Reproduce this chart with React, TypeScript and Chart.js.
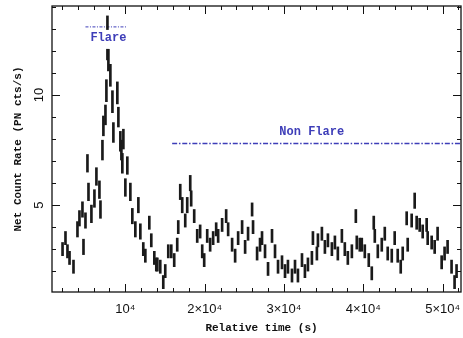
import React, { useEffect, useRef } from "react";
import { Chart, registerables } from "chart.js";

Chart.register(...registerables);

// Relative time (s) of each light-curve bin
const TIMES = [
  2080, 2450, 2700, 2960, 3460, 3960, 4210, 4590, 4720, 4970,
  5220, 5350, 5720, 6100, 6350, 6730, 6860, 7110, 7230, 7490,
  7610, 7740, 7860, 8110, 8370, 8490, 8990, 9120, 9370, 9500,
  9620, 9750, 10000, 10250, 10630, 10880, 11260, 11640, 11890, 12260,
  12520, 13020, 13270, 13650, 13900, 14030, 14400, 14780, 15030, 15410,
  15790, 16160, 16540, 16670, 16920, 17170, 17550, 17800, 18180, 18300,
  18680, 19060, 19430, 19690, 19940, 20320, 20690, 21070, 21450, 21700,
  22200, 22710, 22960, 23460, 23840, 24220, 24720, 25100, 25470, 25980,
  26100, 26610, 26980, 27230, 27610, 27990, 28490, 28870, 29250, 29750,
  30130, 30500, 31010, 31390, 31760, 32270, 32640, 33020, 33520, 33650,
  34150, 34280, 34780, 35160, 35540, 36040, 36420, 36790, 37300, 37670,
  38050, 38560, 39060, 39180, 39560, 39810, 40190, 40690, 41070, 41320,
  41450, 41830, 42330, 42710, 43080, 43590, 43960, 44340, 44720, 44970,
  45470, 45600, 46100, 46480, 46730, 47110, 47490, 47990, 48120, 48620,
  49000, 49370, 49880, 50250, 50630, 51130, 51510, 51760,
];

// Net count rate (PN cts/s)
const RATES = [
  3.0, 3.5, 2.9, 2.6, 2.2, 3.9, 4.4, 4.8, 3.1, 4.3,
  6.9, 5.6, 4.6, 5.3, 6.3, 5.7, 4.8, 7.5, 8.6, 9.1,
  10.2, 12.6, 11.6, 10.9, 9.7, 8.3, 10.1, 9.0, 7.9, 7.5,
  6.9, 8.0, 5.8, 6.8, 5.6, 4.5, 3.9, 5.0, 3.8, 3.0,
  2.7, 4.2, 3.4, 2.6, 2.3, 2.3, 2.2, 1.5, 2.0, 2.9,
  2.9, 2.5, 3.2, 4.0, 5.6, 5.0, 4.3, 5.0, 6.0, 5.3,
  4.5, 3.6, 3.8, 2.9, 2.5, 3.6, 3.2, 3.5, 3.9, 3.6,
  4.1, 4.5, 3.9, 3.2, 2.7, 3.5, 4.0, 3.1, 3.7, 4.8,
  4.0, 2.8, 3.2, 3.5, 2.9, 2.1, 3.6, 2.9, 2.2, 2.4,
  2.0, 2.2, 1.8, 2.2, 1.8, 2.5, 2.0, 2.3, 2.6, 3.5,
  2.8, 3.4, 3.7, 3.1, 3.4, 3.0, 3.3, 2.8, 3.6, 3.0,
  2.6, 2.9, 4.5, 3.3, 3.2, 3.2, 2.9, 2.5, 1.9, 4.2,
  3.6, 2.9, 3.2, 3.7, 2.8, 2.7, 3.5, 2.7, 2.2, 2.8,
  4.4, 3.2, 4.3, 5.2, 4.2, 4.1, 3.8, 4.1, 3.5, 3.3,
  3.1, 3.7, 2.4, 2.8, 3.1, 2.2, 1.5, 2.0,
];

// 1-sigma error (half-length of each error bar)
const ERRORS = [
  0.3, 0.3, 0.3, 0.3, 0.3, 0.35, 0.35, 0.35, 0.35, 0.35,
  0.4, 0.4, 0.4, 0.4, 0.4, 0.4, 0.4, 0.45, 0.45, 0.45,
  0.5, 1.0, 0.5, 0.5, 0.5, 0.45, 0.5, 0.45, 0.45, 0.45,
  0.45, 0.45, 0.4, 0.4, 0.4, 0.35, 0.35, 0.35, 0.35, 0.3,
  0.3, 0.3, 0.3, 0.3, 0.3, 0.3, 0.3, 0.3, 0.3, 0.3,
  0.3, 0.3, 0.3, 0.3, 0.35, 0.35, 0.3, 0.35, 0.35, 0.35,
  0.3, 0.3, 0.3, 0.3, 0.3, 0.3, 0.3, 0.3, 0.3, 0.3,
  0.3, 0.3, 0.3, 0.3, 0.3, 0.3, 0.3, 0.3, 0.3, 0.3,
  0.3, 0.3, 0.3, 0.3, 0.3, 0.3, 0.3, 0.3, 0.3, 0.3,
  0.3, 0.3, 0.3, 0.3, 0.3, 0.3, 0.3, 0.3, 0.3, 0.3,
  0.3, 0.3, 0.3, 0.3, 0.3, 0.3, 0.3, 0.3, 0.3, 0.3,
  0.3, 0.3, 0.3, 0.3, 0.3, 0.3, 0.3, 0.3, 0.3, 0.3,
  0.3, 0.3, 0.3, 0.3, 0.3, 0.3, 0.3, 0.3, 0.3, 0.3,
  0.3, 0.3, 0.3, 0.35, 0.3, 0.3, 0.3, 0.3, 0.3, 0.3,
  0.3, 0.3, 0.3, 0.3, 0.3, 0.3, 0.3, 0.3,
];

const X_MIN = 750;
const X_MAX = 52320;
const Y_MIN = 1.05;
const Y_MAX = 14.05;

const X_MAJOR = [10000, 20000, 30000, 40000, 50000];
const X_MAJOR_LABELS = ["10\u2074", "2\u00d710\u2074", "3\u00d710\u2074", "4\u00d710\u2074", "5\u00d710\u2074"];
const X_MINOR_STEP = 2000;
const Y_MAJOR = [5, 10];
const Y_MAJOR_LABELS = ["5", "10"];
const Y_MINOR_STEP = 1;

const FLARE_START = 4970;
const FLARE_END = 10250;
const FLARE_LEVEL = 13.1;
const NONFLARE_START = 15900;
const NONFLARE_END = 52320;
const NONFLARE_LEVEL = 7.8;
const NONFLARE_LABEL_AT = 33500;

const X_TITLE = "Relative time (s)";
const Y_TITLE = "Net Count Rate (PN cts/s)";
const FLARE_TEXT = "Flare";
const NONFLARE_TEXT = "Non Flare";

const BLUE = "#3d3db8";

const axesPlugin = {
  id: "pgplotAxes",
  afterDraw(chart: any) {
    const { ctx, chartArea: a, scales } = chart;
    const x = scales.x;
    const y = scales.y;
    ctx.save();
    ctx.strokeStyle = "#111";
    ctx.lineWidth = 1.3;
    ctx.strokeRect(a.left, a.top, a.right - a.left, a.bottom - a.top);

    ctx.lineWidth = 1;
    ctx.beginPath();
    for (let t = X_MINOR_STEP; t < X_MAX; t += X_MINOR_STEP) {
      if (t <= X_MIN) continue;
      const px = Math.round(x.getPixelForValue(t)) + 0.5;
      const len = t % 10000 === 0 ? 8 : 4;
      ctx.moveTo(px, a.bottom);
      ctx.lineTo(px, a.bottom - len);
      ctx.moveTo(px, a.top);
      ctx.lineTo(px, a.top + len);
    }
    for (let v = Math.ceil(Y_MIN); v < Y_MAX; v += Y_MINOR_STEP) {
      const py = Math.round(y.getPixelForValue(v)) + 0.5;
      const len = v % 5 === 0 ? 8 : 4;
      ctx.moveTo(a.left, py);
      ctx.lineTo(a.left + len, py);
      ctx.moveTo(a.right, py);
      ctx.lineTo(a.right - len, py);
    }
    ctx.stroke();

    // tick labels
    ctx.fillStyle = "#111";
    ctx.font = "13px 'Liberation Sans', Arial, sans-serif";
    ctx.textAlign = "center";
    ctx.textBaseline = "alphabetic";
    X_MAJOR.forEach((t, i) => {
      ctx.fillText(X_MAJOR_LABELS[i], x.getPixelForValue(t), 313);
    });
    Y_MAJOR.forEach((v, i) => {
      ctx.save();
      ctx.translate(39, y.getPixelForValue(v));
      ctx.rotate(-Math.PI / 2);
      ctx.textBaseline = "middle";
      ctx.fillText(Y_MAJOR_LABELS[i], 0, 0);
      ctx.restore();
    });

    // axis titles
    ctx.font = "bold 11px 'Liberation Mono', 'Courier New', monospace";
    ctx.textBaseline = "middle";
    ctx.fillText(X_TITLE, (a.left + a.right) / 2 + 5, 328);
    ctx.save();
    ctx.translate(18, (a.top + a.bottom) / 2);
    ctx.rotate(-Math.PI / 2);
    ctx.fillText(Y_TITLE, 0, 0);
    ctx.restore();

    // annotations
    ctx.font = "bold 12px 'Liberation Mono', 'Courier New', monospace";
    const fx = (x.getPixelForValue(FLARE_START) + x.getPixelForValue(FLARE_END)) / 2 + 2;
    const fy = y.getPixelForValue(FLARE_LEVEL) + 11;
    ctx.fillStyle = "#fff";
    ctx.fillRect(fx - 20, fy - 8, 40, 19);
    ctx.fillStyle = BLUE;
    ctx.fillText(FLARE_TEXT, fx, fy);
    ctx.fillText(NONFLARE_TEXT, x.getPixelForValue(NONFLARE_LABEL_AT), y.getPixelForValue(NONFLARE_LEVEL) - 12);
    ctx.restore();
  },
};

export default function App() {
  const ref = useRef<HTMLCanvasElement | null>(null);
  useEffect(() => {
    if (!ref.current) return;
    const chart = new Chart(ref.current, {
      type: "bar",
      data: {
        datasets: [
          {
            type: "bar",
            data: TIMES.map((t, i) => ({ x: t, y: [RATES[i] - ERRORS[i], RATES[i] + ERRORS[i]] })) as any,
            backgroundColor: "#1a1a1a",
            borderWidth: 0,
            barThickness: 2,
          } as any,
          {
            type: "line",
            data: [
              { x: FLARE_START, y: FLARE_LEVEL },
              { x: FLARE_END, y: FLARE_LEVEL },
            ],
            borderColor: BLUE,
            borderWidth: 1,
            borderDash: [3, 1.5, 1, 1.5],
            pointRadius: 0,
            fill: false,
          } as any,
          {
            type: "line",
            data: [
              { x: NONFLARE_START, y: NONFLARE_LEVEL },
              { x: NONFLARE_END, y: NONFLARE_LEVEL },
            ],
            borderColor: BLUE,
            borderWidth: 1.4,
            borderDash: [5, 1.8, 1.5, 1.8],
            pointRadius: 0,
            fill: false,
          } as any,
        ],
      },
      options: {
        animation: false,
        responsive: false,
        layout: { padding: { left: 52, right: 2, top: 6, bottom: 46 } },
        plugins: { legend: { display: false }, tooltip: { enabled: false } },
        scales: {
          x: { type: "linear", min: X_MIN, max: X_MAX, offset: false, display: false },
          y: { type: "linear", min: Y_MIN, max: Y_MAX, display: false },
        },
      },
      plugins: [axesPlugin],
    });
    return () => chart.destroy();
  }, []);
  return (
    <div style={{ position: "fixed", left: 0, top: 0, width: 463, height: 338, background: "#fff" }}>
      <canvas ref={ref} width={463} height={338} style={{ display: "block" }} />
    </div>
  );
}
